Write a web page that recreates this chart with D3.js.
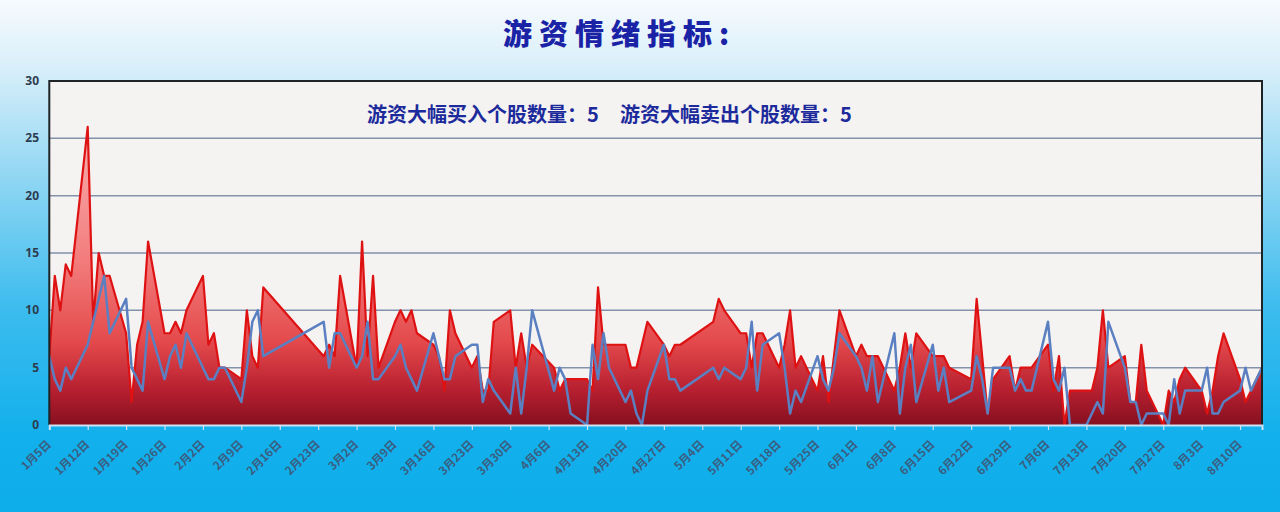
<!DOCTYPE html>
<html><head><meta charset="utf-8">
<script src="https://cdn.jsdelivr.net/npm/d3@7"></script>
<style>html,body{margin:0;padding:0;}svg{display:block;}</style>
</head><body>
<svg id="c" width="1280" height="512"></svg>
<script>
const title = "游资情绪指标:";
const subtitleBuy = "游资大幅买入个股数量：5";
const subtitleSell = "游资大幅卖出个股数量：5";

const tradeDays = [
"01-05","01-06","01-07","01-08","01-09","01-12","01-13","01-14","01-15","01-16","01-19","01-20","01-21","01-22","01-23","01-26","01-27","01-28","01-29","01-30",
"02-02","02-03","02-04","02-05","02-06","02-09","02-10","02-11","02-12","02-13","02-24","02-25","02-26","02-27",
"03-02","03-03","03-04","03-05","03-06","03-09","03-10","03-11","03-12","03-13","03-16","03-17","03-18","03-19","03-20","03-23","03-24","03-25","03-26","03-27","03-30","03-31",
"04-01","04-02","04-03","04-07","04-08","04-09","04-10","04-13","04-14","04-15","04-16","04-17","04-20","04-21","04-22","04-23","04-24","04-27","04-28","04-29","04-30",
"05-06","05-07","05-08","05-11","05-12","05-13","05-14","05-15","05-18","05-19","05-20","05-21","05-22","05-25","05-26","05-27","05-28","05-29",
"06-01","06-02","06-03","06-04","06-05","06-08","06-09","06-10","06-11","06-12","06-15","06-16","06-17","06-18","06-22","06-23","06-24","06-25","06-26","06-29","06-30",
"07-01","07-02","07-03","07-06","07-07","07-08","07-09","07-10","07-13","07-14","07-15","07-16","07-17","07-20","07-21","07-22","07-23","07-24","07-27","07-28","07-29","07-30","07-31",
"08-03","08-04","08-05","08-06","08-07","08-10","08-11","08-12","08-13","08-14"];

// 游资大幅买入个股数量 (red area)
const buyCounts = [
6,13,10,14,13, 26,9,15,13,13, 8,2,7,9,16, 8,8,9,8,10,
13,7,8,5,5, 4,10,6,5,12, 6,7,6,13,
5,16,6,13,5, 9,10,9,10,8, 7,6,3,10,8, 5,6,3,3,9, 10,5,
8,5,7, 5,3,4,4, 4,3,12,7,7, 7,5,5,7,9, 7,6,7,7,
9,11,10, 8,8,5,8,8, 5,7,10,5,6, 3,6,2,6,10,
6,7,6,6,6, 3,5,8,5,8, 6,6,6,5, 4,11,6,1,4, 6,3,
5,5,5, 7,3,6,0,3, 3,3,5,10,5, 6,2,2,7,3, 0,3,2,4,5,
3,1,3,6,8, 4,2,3,4,5];

// 游资大幅卖出个股数量 (blue line)
const sellCounts = [
6,4,3,5,4, 7,9,11,13,8, 11,5,4,3,9, 4,6,7,5,8,
5,4,4,5,5, 2,5,9,10,6, 9,5,8,8,
5,6,9,4,4, 6,7,5,4,3, 8,6,4,4,6, 7,7,2,4,3, 1,5,
1,5,10, 3,5,4,1, 0,7,4,8,5, 2,3,1,0,3, 7,4,4,3,
5,4,5, 4,5,9,3,7, 8,5,1,3,2, 6,4,3,5,8,
6,5,3,6,2, 8,1,5,7,2, 7,3,5,2, 3,6,4,1,5, 5,3,
4,3,3, 9,4,3,5,0, 0,1,2,1,9, 5,2,2,0,1, 1,0,4,1,3,
3,5,1,1,2, 3,5,3,4,5];

const yTicks = [0,5,10,15,20,25,30];
const xTickLabels = ["1月5日","1月12日","1月19日","1月26日","2月2日","2月9日","2月16日","2月23日","3月2日","3月9日","3月16日","3月23日","3月30日","4月6日","4月13日","4月20日","4月27日","5月4日","5月11日","5月18日","5月25日","6月1日","6月8日","6月15日","6月22日","6月29日","7月6日","7月13日","7月20日","7月27日","8月3日","8月10日"];

const parse = d3.utcParse("%Y-%m-%d");
const data = tradeDays.map((d,i)=>({date: parse("2026-"+d), buy: buyCounts[i], sell: sellCounts[i]}));

const W=1280,H=512;
const L=49.3,R=1262,T=81,B=425;
const svg=d3.select("#c");
const defs=svg.append("defs");

const bg=defs.append("linearGradient").attr("id","bg").attr("x1",0).attr("y1",0).attr("x2",0).attr("y2",1);
[[0,"#f6fafd"],[0.12,"#dcf0fa"],[0.35,"#8fd6f3"],[0.6,"#3dbcee"],[0.85,"#12b0ec"],[1,"#0eaeea"]].forEach(s=>bg.append("stop").attr("offset",s[0]).attr("stop-color",s[1]));
svg.append("rect").attr("width",W).attr("height",H).attr("fill","url(#bg)");

const x=d3.scaleUtc().domain([parse("2026-01-05"),parse("2026-08-14")]).range([L,R]);
const y=d3.scaleLinear().domain([0,30]).range([B,T]);

const ag=defs.append("linearGradient").attr("id","ag").attr("gradientUnits","userSpaceOnUse").attr("x1",0).attr("x2",0).attr("y1",y(26)).attr("y2",y(0));
[[0,"#f7b0b0"],[0.45,"#f37c7c"],[0.72,"#e44a4c"],[0.88,"#b82030"],[1,"#861020"]].forEach(s=>ag.append("stop").attr("offset",s[0]).attr("stop-color",s[1]));

defs.append("clipPath").attr("id","clip").append("rect").attr("x",L).attr("y",T).attr("width",R-L).attr("height",B-T);

svg.append("rect").attr("x",L).attr("y",T).attr("width",R-L).attr("height",B-T).attr("fill","#f5f3f1");

// grid
svg.append("g").selectAll("line").data(yTicks.filter(v=>v>0&&v<30)).join("line")
 .attr("x1",L).attr("x2",R).attr("y1",d=>y(d)).attr("y2",d=>y(d))
 .attr("stroke","#8291ac").attr("stroke-width",1.5);

const g=svg.append("g").attr("clip-path","url(#clip)");
g.append("path").datum(data).attr("d",d3.area().x(d=>x(d.date)).y0(y(0)).y1(d=>y(d.buy))).attr("fill","url(#ag)");
g.append("path").datum(data).attr("d",d3.line().x(d=>x(d.date)).y(d=>y(d.buy))).attr("fill","none").attr("stroke","#de1212").attr("stroke-width",2.2).attr("stroke-linejoin","round");
g.append("path").datum(data).attr("d",d3.line().x(d=>x(d.date)).y(d=>y(d.sell))).attr("fill","none").attr("stroke","#5b80c2").attr("stroke-width",2.5).attr("stroke-linejoin","round");

// borders
svg.append("path").attr("d",`M${L},${B}V${T}H${R}V${B}`).attr("fill","none").attr("stroke","#1e2326").attr("stroke-width",2);

// x axis
const weekTicks=d3.range(xTickLabels.length).map(i=>d3.utcDay.offset(parse("2026-01-05"),7*i));
const xa=svg.append("g").attr("transform",`translate(0,${B})`)
 .call(d3.axisBottom(x).tickValues(weekTicks).tickSize(5).tickFormat((d,i)=>xTickLabels[i]));
xa.select(".domain").attr("stroke","#cfe2f2").attr("stroke-width",2);
xa.selectAll(".tick line").attr("stroke","#d2e4f2").attr("stroke-width",1.2);
xa.selectAll(".tick text").attr("text-anchor","end").attr("x",0).attr("y",0).attr("dx",0).attr("dy",0)
 .attr("transform","translate(2,20) rotate(-45)")
 .attr("font-family","'Noto Sans CJK SC',sans-serif").attr("font-size",11.5).attr("font-weight",700).attr("fill","#3b5d80");

// y axis labels
svg.append("g").selectAll("text").data(yTicks).join("text")
 .attr("x",39).attr("y",d=>y(d)+4).attr("text-anchor","end")
 .attr("font-family","'Noto Sans',sans-serif").attr("font-size",12).attr("font-weight",700).attr("fill","#2e3c50")
 .text(d=>d);

// titles
svg.append("text").attr("x",503).attr("y",45).attr("font-family","'Noto Sans CJK SC',sans-serif")
 .attr("font-size",29).attr("font-weight",900).attr("letter-spacing",7).attr("fill","#1a22a6").text(title);
svg.append("text").attr("x",367).attr("y",122).attr("font-family","'Noto Sans CJK SC',sans-serif")
 .attr("font-size",20).attr("font-weight",700).attr("fill","#1c2a9c").text(subtitleBuy);
svg.append("text").attr("x",620).attr("y",122).attr("font-family","'Noto Sans CJK SC',sans-serif")
 .attr("font-size",20).attr("font-weight",700).attr("fill","#1c2a9c").text(subtitleSell);
</script>
</body></html>
